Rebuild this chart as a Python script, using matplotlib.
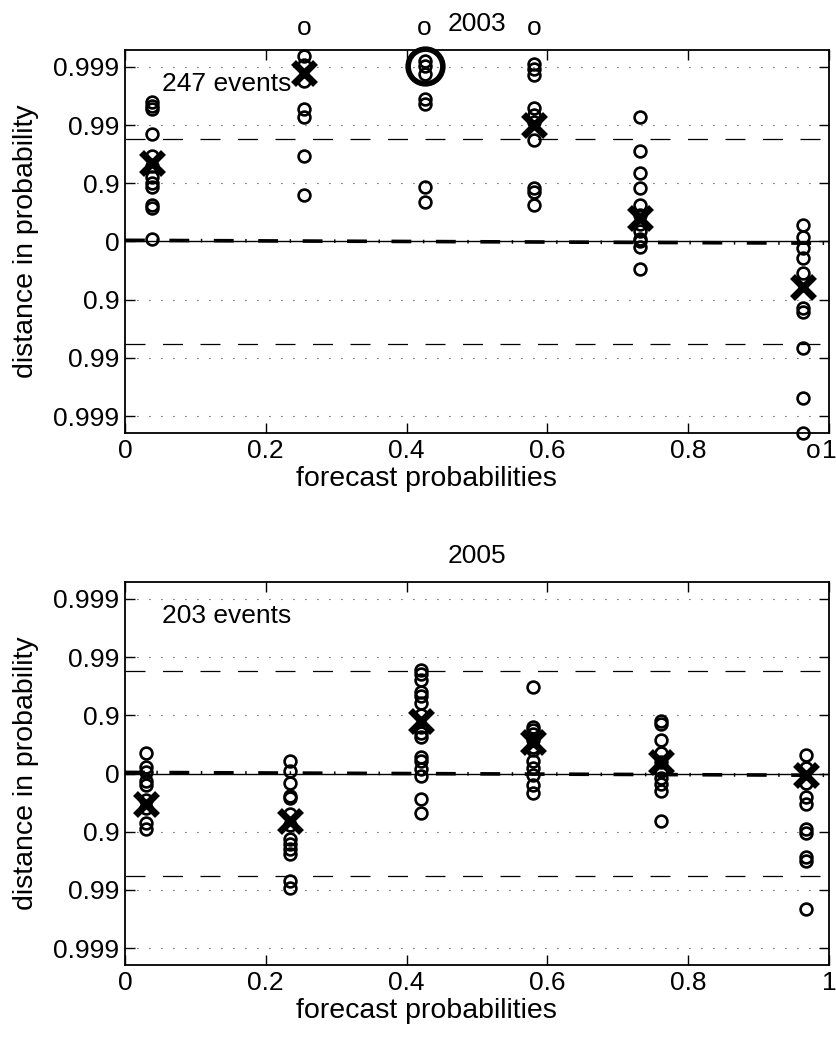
import numpy as np
import matplotlib
matplotlib.use("Agg")
import matplotlib.pyplot as plt

plt.rcParams['font.family'] = ['Liberation Sans', 'DejaVu Sans']
FS = 19
LFS = 20.5

# ---- 2003 ----
x_2003 = [0.038, 0.254, 0.4255, 0.581, 0.732, 0.963]
pts_2003 = [
    [2.40, 2.33, 2.27, 1.84, 1.47, 1.30, 1.10, 1.00, 0.93, 0.62, 0.58, 0.04],
    [3.19, 3.03, 2.75, 2.27, 2.13, 1.46, 0.80],
    [3.10, 3.02, 2.88, 2.45, 2.36, 0.93, 0.68],
    [3.05, 2.97, 2.86, 2.30, 2.17, 2.05, 1.74, 0.92, 0.85, 0.62],
    [2.14, 1.55, 1.17, 0.91, 0.62, 0.45, 0.30, 0.18, 0.05, 0.00, -0.10, -0.47],
    [0.28, 0.07, -0.12, -0.29, -0.55, -1.14, -1.22, -1.83, -2.69, -3.29],
]
mean_2003 = [1.34, 2.90, None, 2.00, 0.40, -0.79]
big_2003 = [None, None, 3.02, None, None, None]
above_2003 = [None, 0.254, 0.4255, 0.581, None, None]
below_2003 = [None, None, None, None, None, 0.978]
events_2003 = "247 events"

# ---- 2005 ----
x_2005 = [0.030, 0.234, 0.421, 0.580, 0.762, 0.967]
pts_2005 = [
    [0.36, 0.12, 0.03, -0.12, -0.20, -0.45, -0.60, -0.85, -0.95],
    [0.22, 0.05, -0.16, -0.38, -0.42, -0.70, -0.88, -1.12, -1.21, -1.30, -1.38, -1.85, -1.97],
    [1.78, 1.71, 1.60, 1.40, 1.34, 1.22, 1.00, 0.80, 0.70, 0.62, 0.28, 0.22, 0.07, -0.05, -0.43, -0.67],
    [1.48, 0.80, 0.75, 0.68, 0.58, 0.45, 0.40, 0.22, 0.10, -0.03, -0.20, -0.33],
    [0.90, 0.85, 0.57, 0.36, 0.20, 0.05, -0.08, -0.18, -0.30, -0.81],
    [0.31, 0.10, -0.16, -0.40, -0.53, -0.95, -1.02, -1.43, -1.50, -2.33],
]
mean_2005 = [-0.52, -0.81, 0.91, 0.55, 0.20, -0.03]
big_2005 = [None] * 6
above_2005 = [None] * 6
below_2005 = [None] * 6
events_2005 = "203 events"

ytick_pos = [-3, -2, -1, 0, 1, 2, 3]
ytick_lab = ['0.999', '0.99', '0.9', '0', '0.9', '0.99', '0.999']
xtick_pos = [0, 0.2, 0.4, 0.6, 0.8, 1.0]
xtick_lab = ['0', '0.2', '0.4', '0.6', '0.8', '1']
band = 1.76
trend = [0.02, -0.03]
ylim = 3.29


def panel(ax, title, xs, pts, means, bigs, above, below, events):
    ax.set_xlim(0, 1)
    ax.set_ylim(-ylim, ylim)
    for y in ytick_pos:
        if y != 0:
            ax.axhline(y, color='k', lw=0.8, ls=(0, (0.8, 10)), zorder=1)
    ax.axhline(0, color='k', lw=1.0, zorder=2)
    ax.plot([0, 1], trend, color='k', lw=2.6, ls=(0, (5.5, 3.2, 0.4, 3.2)), zorder=2)
    for s in (band, -band):
        ax.axhline(s, color='k', lw=0.9, ls=(0, (16, 14)), zorder=2)
    for x, v, m, b in zip(xs, pts, means, bigs):
        ax.plot([x] * len(v), v, 'o', mfc='none', mec='k', ms=8.5, mew=1.9,
                clip_on=False, zorder=4)
        if m is not None:
            ax.plot([x], [m], 'x', color='k', ms=16, mew=5, zorder=5)
        if b is not None:
            ax.plot([x], [b], 'o', mfc='none', mec='k', ms=25, mew=4,
                    clip_on=False, zorder=5)
    # values beyond the plotted range
    for xa in above:
        if xa is not None:
            ax.text(xa, 3.55, 'o', fontsize=FS, ha='center', va='baseline',
                    clip_on=False)
    for xb in below:
        if xb is not None:
            ax.text(xb, -3.72, 'o', fontsize=FS, ha='center', va='baseline',
                    clip_on=False)
    ax.text(0.052, 2.70, events, fontsize=FS, ha='left', va='center', zorder=3)
    ax.set_xticks(xtick_pos)
    ax.set_xticklabels(xtick_lab, fontsize=FS)
    ax.set_yticks(ytick_pos)
    ax.set_yticklabels(ytick_lab, fontsize=FS)
    ax.tick_params(direction='in', length=7, width=1, top=True, right=True, pad=4)
    for sp in ax.spines.values():
        sp.set_linewidth(1.3)
    ax.set_title(title, fontsize=FS, pad=14)
    ax.set_xlabel('forecast probabilities', fontsize=LFS, labelpad=2)
    ax.xaxis.set_label_coords(0.4276, -0.085)
    ax.set_ylabel('distance in probability', fontsize=LFS, labelpad=10)


fig = plt.figure(figsize=(8.36, 10.39), dpi=100)
ax1 = fig.add_axes([0.1495, 0.5833, 0.8421, 0.3686])
ax2 = fig.add_axes([0.1495, 0.0712, 0.8421, 0.3686])
panel(ax1, '2003', x_2003, pts_2003, mean_2003, big_2003, above_2003, below_2003, events_2003)
panel(ax2, '2005', x_2005, pts_2005, mean_2005, big_2005, above_2005, below_2005, events_2005)
fig.savefig('out.png', dpi=100)
